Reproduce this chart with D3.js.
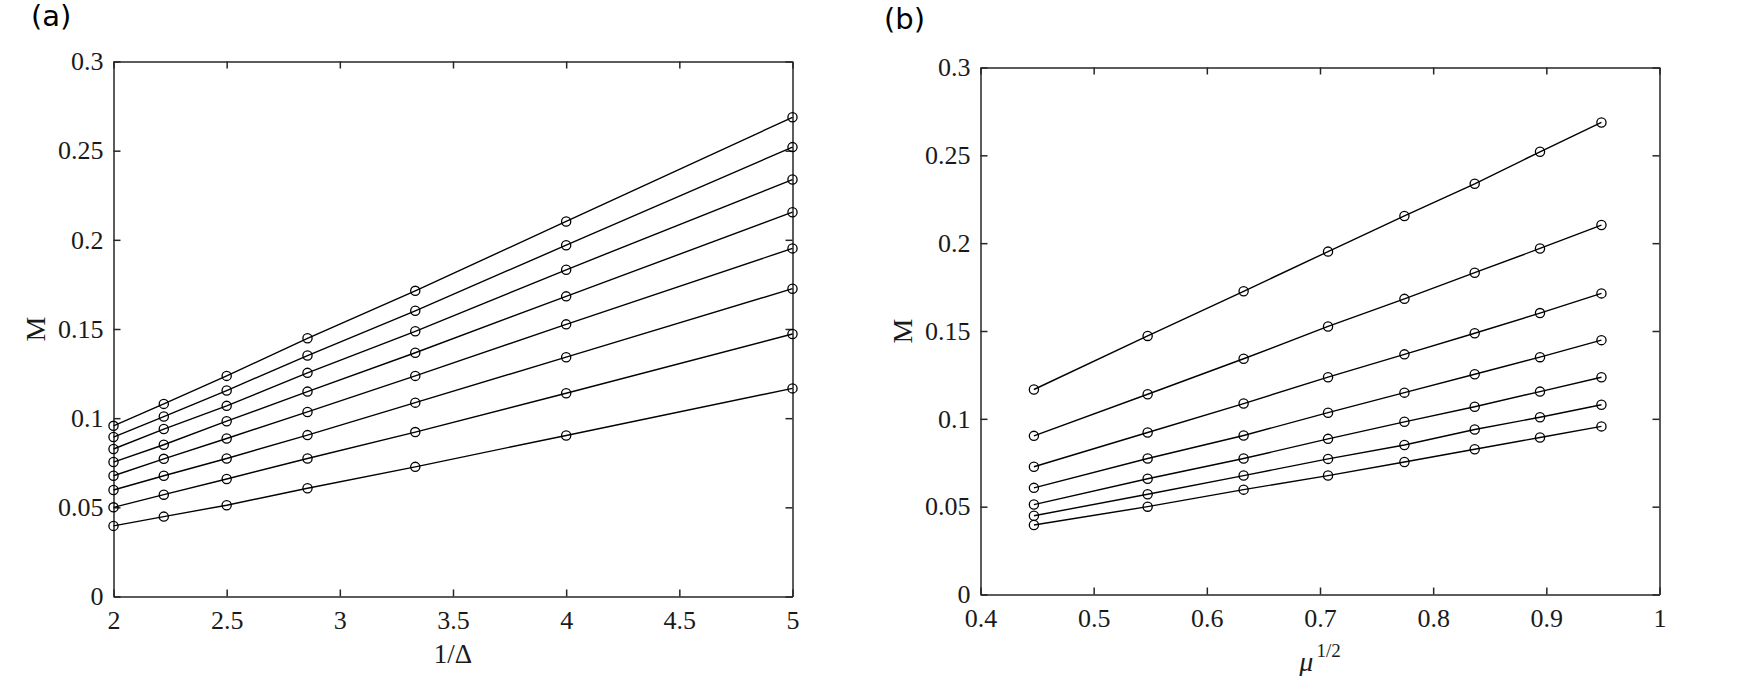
<!DOCTYPE html>
<html lang="en">
<head>
<meta charset="utf-8">
<title>M vs 1/Delta and mu^1/2</title>
<script src="https://cdn.jsdelivr.net/npm/d3@7"></script>
<style>
  html, body { margin: 0; padding: 0; background: #fff; }
  svg { display: block; }
  .axis path, .axis line { stroke: #262626; stroke-width: 1.5px; }
  .axis text { font-family: "Liberation Serif", "Times New Roman", serif; font-size: 26px; fill: #1a1a1a; }
</style>
</head>
<body>
<script>
// x values: 1/Delta (panel a) and sqrt(mu) (panel b)
var invDelta = [2, 2.2222, 2.5, 2.8571, 3.3333, 4, 5];
var sqrtMu = [0.4472, 0.5477, 0.6325, 0.7071, 0.7746, 0.8367, 0.8944, 0.9487];

// M, one row per mu (0.2 ... 0.9), columns follow invDelta
var mu02 = [0.0396, 0.0448, 0.0512, 0.0607, 0.0727, 0.0903, 0.1167];
var mu03 = [0.0500, 0.0571, 0.0659, 0.0774, 0.0922, 0.1140, 0.1472];
var mu04 = [0.0597, 0.0677, 0.0774, 0.0905, 0.1087, 0.1342, 0.1726];
var mu05 = [0.0677, 0.0772, 0.0886, 0.1035, 0.1237, 0.1526, 0.1952];
var mu06 = [0.0754, 0.0851, 0.0983, 0.1149, 0.1367, 0.1683, 0.2155];
var mu07 = [0.0827, 0.0939, 0.1069, 0.1254, 0.1487, 0.1832, 0.2338];
var mu08 = [0.0894, 0.1009, 0.1155, 0.1351, 0.1602, 0.1970, 0.2520];
var mu09 = [0.0957, 0.1080, 0.1237, 0.1448, 0.1714, 0.2103, 0.2687];
var rows = [mu02, mu03, mu04, mu05, mu06, mu07, mu08, mu09];

// tick labels
var xTicksA = [2, 2.5, 3, 3.5, 4, 4.5, 5];
var xTicksB = [0.4, 0.5, 0.6, 0.7, 0.8, 0.9, 1];
var yTicks = [0, 0.05, 0.1, 0.15, 0.2, 0.25, 0.3];

var w = 1742, h = 676;

var svg = d3.select("body").append("svg")
  .attr("width", w)
  .attr("height", h);

var fmt = function(d) { return String(+d.toFixed(2)); };

// series for panel a: each mu row vs 1/Delta
var seriesA = rows.map(function(r) {
  return r.map(function(v, i) { return [invDelta[i], v]; });
});
// series for panel b: each Delta column vs sqrt(mu)
var seriesB = invDelta.map(function(_, j) {
  return rows.map(function(r, i) { return [sqrtMu[i], r[j]]; });
});

function drawPanel(p) {
  var x = d3.scaleLinear().domain(p.xDomain).range([p.left, p.right]);
  var y = d3.scaleLinear().domain([0, 0.3]).range([p.bottom, p.top]);
  var g = svg.append("g");

  g.append("g").attr("class", "axis")
    .attr("transform", "translate(0," + p.bottom + ")")
    .call(d3.axisBottom(x).tickValues(p.xTicks).tickFormat(fmt)
      .tickSizeInner(-7).tickSizeOuter(0).tickPadding(14.5));
  g.append("g").attr("class", "axis")
    .attr("transform", "translate(0," + p.top + ")")
    .call(d3.axisTop(x).tickValues(p.xTicks).tickFormat("")
      .tickSizeInner(-7).tickSizeOuter(0));
  g.append("g").attr("class", "axis")
    .attr("transform", "translate(" + p.left + ",0)")
    .call(d3.axisLeft(y).tickValues(yTicks).tickFormat(fmt)
      .tickSizeInner(-7).tickSizeOuter(0).tickPadding(10));
  g.append("g").attr("class", "axis")
    .attr("transform", "translate(" + p.right + ",0)")
    .call(d3.axisRight(y).tickValues(yTicks).tickFormat("")
      .tickSizeInner(-7).tickSizeOuter(0));

  var line = d3.line()
    .x(function(d) { return x(d[0]); })
    .y(function(d) { return y(d[1]); });

  g.selectAll("path.series")
    .data(p.series)
    .enter().append("path")
    .attr("class", "series")
    .attr("d", line)
    .attr("fill", "none")
    .attr("stroke", "#000")
    .attr("stroke-width", 1.4);

  g.selectAll("g.marks")
    .data(p.series)
    .enter().append("g")
    .attr("class", "marks")
    .selectAll("circle")
    .data(function(d) { return d; })
    .enter().append("circle")
    .attr("cx", function(d) { return x(d[0]); })
    .attr("cy", function(d) { return y(d[1]); })
    .attr("r", 4.6)
    .attr("fill", "none")
    .attr("stroke", "#000")
    .attr("stroke-width", 1.3);

  // y label
  g.append("text")
    .attr("transform", "translate(" + p.yLabelX + "," + ((p.top + p.bottom) / 2) + ") rotate(-90)")
    .attr("text-anchor", "middle")
    .attr("font-family", "Liberation Serif, serif")
    .attr("font-size", "28px")
    .attr("fill", "#1a1a1a")
    .text("M");

  // panel letter
  svg.append("text")
    .attr("x", p.tagX)
    .attr("y", p.tagY)
    .attr("font-family", "DejaVu Sans, sans-serif")
    .attr("font-size", "29px")
    .attr("fill", "#000")
    .text(p.tag);

  return g;
}

var gA = drawPanel({
  left: 113.5, right: 792.5, top: 61.5, bottom: 596.5,
  xDomain: [2, 5], xTicks: xTicksA, series: seriesA,
  yLabelX: 45, tag: "(a)", tagX: 31, tagY: 26
});

gA.append("text")
  .attr("x", (113.5 + 792.5) / 2)
  .attr("y", 663)
  .attr("text-anchor", "middle")
  .attr("font-family", "Liberation Serif, serif")
  .attr("font-size", "27px")
  .attr("fill", "#1a1a1a")
  .text("1/\u0394");

var gB = drawPanel({
  left: 980.5, right: 1659.5, top: 67.5, bottom: 594.5,
  xDomain: [0.4, 1], xTicks: xTicksB, series: seriesB,
  yLabelX: 912, tag: "(b)", tagX: 884, tagY: 29
});

var muLabel = gB.append("text")
  .attr("x", (980.5 + 1659.5) / 2)
  .attr("y", 671)
  .attr("text-anchor", "middle")
  .attr("font-family", "Liberation Serif, serif")
  .attr("font-size", "28px")
  .attr("fill", "#1a1a1a");
muLabel.append("tspan").attr("font-style", "italic").text("\u03bc");
muLabel.append("tspan").attr("dx", 3).attr("dy", -14).attr("font-size", "19px").text("1/2");
</script>
</body>
</html>
